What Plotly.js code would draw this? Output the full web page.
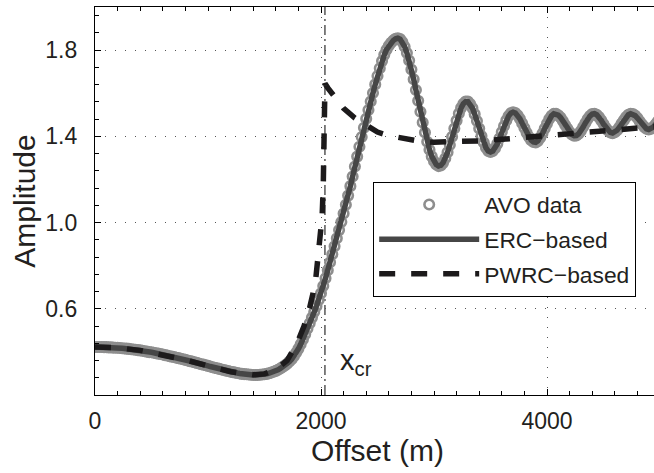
<!DOCTYPE html>
<html><head><meta charset="utf-8">
<script src="https://cdn.plot.ly/plotly-3.0.1.min.js"></script>
<style>html,body{margin:0;padding:0;overflow:hidden;background:#fff}#chart{width:661px;height:473px}</style>
</head><body><div id="chart"></div>
<script>
// AVO data: amplitude read every 20 m of offset, starting at 0 m
const avoOffsetStart = 0;
const avoOffsetStep = 20;
const avoAmplitude = [
0.423,0.423,0.423,0.423,0.422,0.422,0.421,0.421,0.420,0.419,
0.419,0.418,0.417,0.416,0.415,0.414,0.412,0.411,0.410,0.408,
0.407,0.405,0.403,0.401,0.399,0.398,0.396,0.394,0.392,0.390,
0.388,0.385,0.383,0.380,0.378,0.376,0.373,0.371,0.368,0.366,
0.363,0.360,0.357,0.355,0.352,0.349,0.346,0.343,0.341,0.338,
0.335,0.332,0.329,0.326,0.324,0.321,0.318,0.316,0.313,0.311,
0.308,0.306,0.304,0.302,0.300,0.298,0.297,0.296,0.295,0.294,
0.293,0.293,0.293,0.294,0.295,0.296,0.298,0.301,0.304,0.308,
0.312,0.317,0.323,0.330,0.337,0.345,0.355,0.366,0.380,0.396,
0.414,0.435,0.458,0.482,0.507,0.533,0.559,0.585,0.612,0.641,
0.672,0.706,0.742,0.779,0.816,0.853,0.890,0.927,0.965,1.003,
1.042,1.083,1.125,1.169,1.214,1.260,1.306,1.352,1.397,1.440,
1.482,1.522,1.562,1.601,1.641,1.680,1.716,1.749,1.778,1.802,
1.820,1.834,1.845,1.852,1.855,1.851,1.838,1.816,1.787,1.752,
1.710,1.665,1.615,1.565,1.514,1.464,1.418,1.375,1.338,1.307,
1.284,1.269,1.262,1.265,1.277,1.298,1.326,1.360,1.398,1.436,
1.473,1.506,1.532,1.551,1.561,1.561,1.550,1.531,1.503,1.471,
1.436,1.401,1.371,1.347,1.332,1.327,1.332,1.345,1.365,1.391,
1.420,1.448,1.474,1.494,1.507,1.512,1.508,1.498,1.482,1.461,
1.439,1.416,1.397,1.382,1.374,1.372,1.379,1.393,1.413,1.436,
1.459,1.480,1.495,1.504,1.504,1.498,1.487,1.471,1.453,1.436,
1.420,1.409,1.403,1.404,1.412,1.425,1.443,1.462,1.480,1.494,
1.503,1.505,1.500,1.489,1.474,1.457,1.440,1.427,1.418,1.415,
1.419,1.428,1.442,1.459,1.475,1.490,1.500,1.505,1.503,1.496,
1.485,1.470,1.456,1.444,1.435,1.432,1.435,1.443,1.455,1.469
];
// ERC-based curve coincides with the data
const ercAmplitude = avoAmplitude;
// PWRC-based curve
const pwrcOffset = [0,200,400,600,800,1000,1200,1400,1500,1600,1700,1750,1800,1850,1900,1950,1980,2000,2010,2020,2026,2031,2035,2060,2100,2150,2200,2300,2400,2500,2600,2700,2800,2900,3000,3100,3200,3400,3600,3800,4000,4200,4400,4600,4800,5000];
const pwrcAmplitude = [0.423,0.419,0.407,0.388,0.363,0.335,0.308,0.294,0.298,0.318,0.360,0.405,0.455,0.520,0.605,0.720,0.860,0.950,1.030,1.170,1.320,1.480,1.645,1.625,1.595,1.560,1.530,1.485,1.450,1.420,1.403,1.392,1.382,1.375,1.373,1.373,1.375,1.379,1.386,1.394,1.402,1.411,1.420,1.428,1.437,1.447];
const criticalOffset = 2035;
const seriesNames = ['AVO data', 'ERC\u2212based', 'PWRC\u2212based'];
const xTickVals = [0, 2000, 4000];
const yTickVals = [0.6, 1.0, 1.4, 1.8];
const yTickText = ['0.6', '1.0', '1.4', '1.8'];

const FONT = "Arial, 'Liberation Sans', Helvetica, sans-serif";
const INK = '#231f20';

const traces = [
  {type:'scatter', mode:'markers', name:seriesNames[0], legendgroup:'a',
   x0:avoOffsetStart, dx:avoOffsetStep, y:avoAmplitude,
   marker:{symbol:'circle-open', size:9.5, color:'#8e8e8e', line:{width:2.6, color:'#8e8e8e'}}},
  {type:'scatter', mode:'lines', name:seriesNames[1], legendgroup:'b',
   x0:avoOffsetStart, dx:avoOffsetStep, y:ercAmplitude,
   line:{color:'#464646', width:5.5}},
  {type:'scatter', mode:'lines', name:seriesNames[2], legendgroup:'c',
   x:pwrcOffset, y:pwrcAmplitude,
   line:{color:'#1c1a1b', width:5.5, dash:'16px,16px'}}
];

const axisCommon = {
  showline:true, linecolor:'#000', linewidth:1.2, mirror:'ticks',
  ticks:'inside', ticklen:6, tickwidth:1, tickcolor:'#000',
  showgrid:true, gridcolor:'#555', gridwidth:1, griddash:'1px,9px',
  zeroline:false, tickfont:{family:FONT, size:23, color:INK},
  automargin:false
};

const layout = {
  width:661, height:473,
  margin:{l:95, r:1, t:7, b:78},
  paper_bgcolor:'#fff', plot_bgcolor:'#fff',
  font:{family:FONT, color:INK},
  showlegend:true,
  legend:{x:0.492, y:0.549, xanchor:'left', yanchor:'top',
    bgcolor:'#fff', bordercolor:'#000', borderwidth:1.2,
    font:{family:FONT, size:22.8, color:INK}, itemwidth:100, tracegroupgap:2},
  xaxis:Object.assign({}, axisCommon, {
    range:[0,5000], tickmode:'array', tickvals:xTickVals,
    ticklabelstandoff:5,
    minor:{tick0:0, dtick:200, ticks:'inside', ticklen:4, tickcolor:'#000', showgrid:false},
    title:{text:'Offset (m)', font:{family:FONT, size:30, color:INK}, standoff:1}
  }),
  yaxis:Object.assign({}, axisCommon, {
    range:[0.2,2.0], tickmode:'array', tickvals:yTickVals, ticktext:yTickText,
    ticklabelstandoff:12,
    minor:{tick0:0.2, dtick:0.08, ticks:'inside', ticklen:4, tickcolor:'#000', showgrid:false},
    title:{text:'Amplitude', font:{family:FONT, size:30, color:INK}, standoff:0}
  }),
  shapes:[{type:'line', xref:'x', yref:'paper', x0:criticalOffset, x1:criticalOffset, y0:0, y1:1,
    layer:'below', line:{color:'#000', width:1, dash:'10px,4px,2px,4px'}}],
  annotations:[{xref:'x', yref:'y', x:2150, y:0.355, xanchor:'left', yanchor:'middle',
    text:'x<sub>cr</sub>', showarrow:false, font:{family:FONT, size:29, color:INK}}]
};

Plotly.newPlot('chart', traces, layout, {displayModeBar:false, staticPlot:true});
</script></body></html>
